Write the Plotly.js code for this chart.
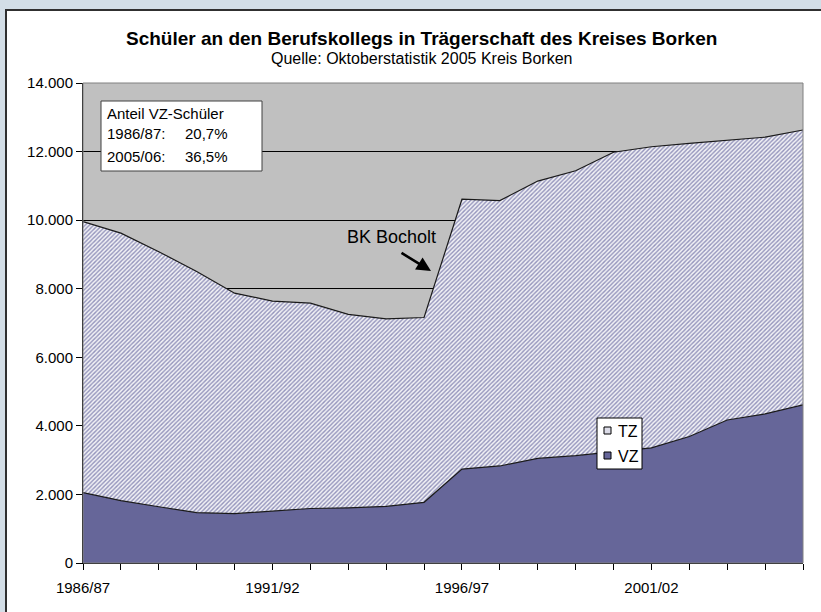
<!DOCTYPE html>
<html>
<head>
<meta charset="utf-8">
<script src="https://cdn.plot.ly/plotly-3.0.1.min.js"></script>
<style>
  html, body { margin: 0; padding: 0; background: #d3dee7; width: 821px; height: 612px; overflow: hidden; }
  #frame { position: absolute; left: 5px; top: 9px; width: 816px; height: 603px; background: #ffffff;
           border-left: 2px solid #303030; border-top: 2px solid #303030; box-sizing: border-box; }
  #chart { position: absolute; left: 0; top: 0; width: 821px; height: 612px; }
</style>
</head>
<body>
<div id="frame"></div>
<div id="chart"></div>
<script>
// Categories (school years)
const years = ["1986/87","1987/88","1988/89","1989/90","1990/91","1991/92","1992/93","1993/94","1994/95","1995/96",
               "1996/97","1997/98","1998/99","1999/00","2000/01","2001/02","2002/03","2003/04","2004/05","2005/06"];
// Vollzeit-Schüler (VZ)
const vz = [2050, 1820, 1640, 1470, 1440, 1520, 1590, 1610, 1650, 1770,
            2740, 2830, 3050, 3130, 3240, 3360, 3690, 4170, 4350, 4610];
// Teilzeit-Schüler (TZ), stacked on top of VZ
const tz = [7910, 7800, 7440, 7030, 6430, 6120, 5990, 5640, 5470, 5390,
            7870, 7740, 8090, 8310, 8740, 8780, 8550, 8150, 8070, 8020];
// x tick labels shown every five years
const shownLabels = ["1986/87","1991/92","1996/97","2001/02"];

const FONT = "Liberation Sans, Arial, sans-serif";

// plot-area pixel helpers (for layout placement only)
const L = 83, R = 803, T = 83, B = 563;
const px = v => (v - L) / (R - L);
const py = v => (B - v) / (B - T);

const traces = [
  {
    x: years, y: vz, name: "VZ", type: "scatter", mode: "lines", stackgroup: "one",
    line: {color: "#1a1a1a", width: 1.2, shape: "linear"},
    fillcolor: "#666699", showlegend: false, hoverinfo: "x+y"
  },
  {
    x: years, y: tz, name: "TZ", type: "scatter", mode: "lines", stackgroup: "one",
    line: {color: "#1a1a1a", width: 1.2, shape: "linear"},
    fillcolor: "#ffffff",
    fillpattern: {shape: "/", fgcolor: "#9393bb", bgcolor: "#f2f2f6", size: 3, solidity: 0.45},
    showlegend: false, hoverinfo: "x+y"
  }
];

const ann = [];
const shapes = [];
// Title & subtitle
ann.push({xref: "paper", yref: "paper", x: px(421), y: py(38), xanchor: "center", yanchor: "middle",
  text: "<b>Schüler an den Berufskollegs in Trägerschaft des Kreises Borken</b>", showarrow: false,
  font: {family: FONT, size: 19, color: "#000"}});
ann.push({xref: "paper", yref: "paper", x: px(421), y: py(59), xanchor: "center", yanchor: "middle",
  text: "Quelle: Oktoberstatistik 2005 Kreis Borken", showarrow: false,
  font: {family: FONT, size: 16, color: "#000"}});

// Info box
shapes.push({type: "rect", xref: "paper", yref: "paper", x0: px(101), x1: px(262), y0: py(171), y1: py(101),
  fillcolor: "#ffffff", line: {color: "#404040", width: 1}, layer: "above"});
const infoRows = [["Anteil VZ-Schüler", "", 113], ["1986/87:", "20,7%", 134], ["2005/06:", "36,5%", 156]];
infoRows.forEach(r => {
  ann.push({xref: "paper", yref: "paper", x: px(105), y: py(r[2]), xanchor: "left", yanchor: "middle",
    text: r[0], showarrow: false, font: {family: FONT, size: 15, color: "#000"}});
  if (r[1]) ann.push({xref: "paper", yref: "paper", x: px(183), y: py(r[2]), xanchor: "left", yanchor: "middle",
    text: r[1], showarrow: false, font: {family: FONT, size: 15, color: "#000"}});
});

// BK Bocholt annotation + arrow
ann.push({xref: "paper", yref: "paper", x: px(391), y: py(237), xanchor: "center", yanchor: "middle",
  text: "BK Bocholt", showarrow: false, font: {family: FONT, size: 18, color: "#000"}});
ann.push({xref: "paper", yref: "paper", x: px(431), y: py(271), text: "", showarrow: true,
  ax: -31, ay: -19, arrowhead: 2, arrowsize: 1.1, arrowwidth: 2.6, arrowcolor: "#000", standoff: 0});

// Legend box (custom)
shapes.push({type: "rect", xref: "paper", yref: "paper", x0: px(597), x1: px(642), y0: py(469), y1: py(418),
  fillcolor: "#ffffff", line: {color: "#000", width: 1}, layer: "above"});
shapes.push({type: "rect", xref: "paper", yref: "paper", x0: px(604), x1: px(611), y0: py(434), y1: py(427),
  fillcolor: "#dcdce8", line: {color: "#000", width: 1}, layer: "above"});
shapes.push({type: "rect", xref: "paper", yref: "paper", x0: px(604), x1: px(611), y0: py(459), y1: py(452),
  fillcolor: "#666699", line: {color: "#000", width: 1}, layer: "above"});
ann.push({xref: "paper", yref: "paper", x: px(616), y: py(431), xanchor: "left", yanchor: "middle",
  text: "TZ", showarrow: false, font: {family: FONT, size: 16, color: "#000"}});
ann.push({xref: "paper", yref: "paper", x: px(616), y: py(456), xanchor: "left", yanchor: "middle",
  text: "VZ", showarrow: false, font: {family: FONT, size: 16, color: "#000"}});

// plot-area border (grey)
shapes.push({type: "rect", xref: "paper", yref: "paper", x0: 0, x1: 1, y0: 0, y1: 1,
  line: {color: "#808080", width: 1}, layer: "above"});

const layout = {
  width: 821, height: 612,
  margin: {l: L, r: 821 - R, t: T, b: 612 - B, pad: 0},
  paper_bgcolor: "rgba(0,0,0,0)",
  plot_bgcolor: "#c0c0c0",
  showlegend: false,
  separators: ",.",
  font: {family: FONT, size: 15, color: "#000"},
  xaxis: {
    type: "category", range: [0, years.length - 1],
    tickmode: "array", tickvals: years,
    ticktext: years.map(y => shownLabels.includes(y) ? y : ""),
    ticks: "outside", ticklen: 6, tickcolor: "#000", tickwidth: 1,
    ticklabelstandoff: 5,
    showline: true, linecolor: "#000", linewidth: 1, showgrid: false, zeroline: false,
    tickfont: {family: FONT, size: 15, color: "#000"}, tickangle: 0, fixedrange: true
  },
  yaxis: {
    range: [0, 14000], dtick: 2000, tick0: 0, tickformat: ",d",
    ticks: "outside", ticklen: 6, tickcolor: "#000", tickwidth: 1,
    showline: true, linecolor: "#000", linewidth: 1,
    showgrid: true, gridcolor: "#000", gridwidth: 1, zeroline: false,
    tickfont: {family: FONT, size: 15, color: "#000"}, fixedrange: true
  },
  annotations: ann,
  shapes: shapes
};

Plotly.newPlot("chart", traces, layout, {displayModeBar: false, staticPlot: true});
</script>
</body>
</html>
